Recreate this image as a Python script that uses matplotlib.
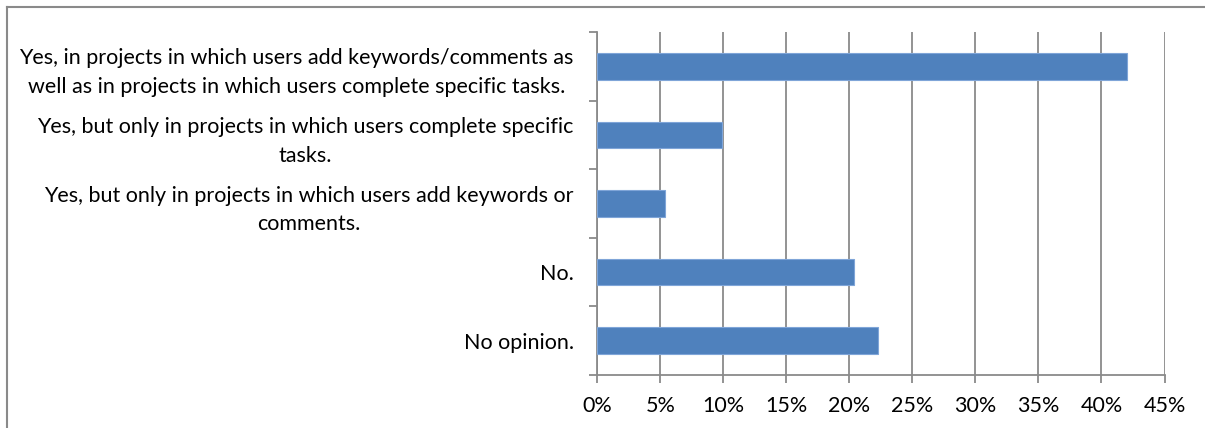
import matplotlib
matplotlib.use('Agg')
import matplotlib.pyplot as plt
from matplotlib.lines import Line2D
from matplotlib.ticker import MultipleLocator, PercentFormatter

# réponses du sondage (de haut en bas)
answers = [
    'Yes, in projects in which users add keywords/comments as\nwell as in projects in which users complete specific tasks.',
    'Yes, but only in projects in which users complete specific\ntasks.',
    'Yes, but only in projects in which users add keywords or\ncomments.',
    'No.',
    'No opinion.',
]
shares = [42.0, 9.9, 5.4, 20.4, 22.3]
xticks = [0, 5, 10, 15, 20, 25, 30, 35, 40, 45]

plt.rcParams['font.family'] = ['Lato', 'DejaVu Sans']

fig = plt.figure(figsize=(12.05, 4.28), dpi=100)
ax = fig.add_axes([0.4957, 0.124, 0.4707, 0.801])

pos = list(range(len(answers)))
ax.barh(pos, shares, height=0.39, color='#4f81bd', edgecolor='#7fa5d8', linewidth=0.8, zorder=3)

ax.set_xlim(0, 45)
ax.set_ylim(len(answers) - 0.5, -0.5)
ax.set_xticks(xticks)
ax.xaxis.set_major_formatter(PercentFormatter(decimals=0))
ax.grid(axis='x', color='#8a8a8a', linewidth=1.3, zorder=0)

ax.set_yticks(pos)
ax.set_yticklabels(answers, multialignment='center', linespacing=1.55)
ax.yaxis.set_minor_locator(MultipleLocator(1, offset=0.5))
ax.tick_params(axis='y', which='major', length=0, pad=17, labelsize=15.5)
ax.tick_params(axis='y', which='minor', length=6, width=1.3, color='#8a8a8a')
ax.tick_params(axis='x', length=6, width=1.3, color='#8a8a8a', labelsize=15.5, pad=9.5)

for s in ['top', 'right']:
    ax.spines[s].set_visible(False)
for s in ['left', 'bottom']:
    ax.spines[s].set_color('#8a8a8a')
    ax.spines[s].set_linewidth(1.3)

# cadre gris du graphique (haut et gauche)
x0 = 7 / 1205
y0 = 1 - 7 / 428
fig.add_artist(Line2D([x0, 1], [y0, y0], color='#8a8a8a', linewidth=1.5, transform=fig.transFigure))
fig.add_artist(Line2D([x0, x0], [0, y0], color='#8a8a8a', linewidth=1.5, transform=fig.transFigure))

fig.savefig('out.png', dpi=100)
